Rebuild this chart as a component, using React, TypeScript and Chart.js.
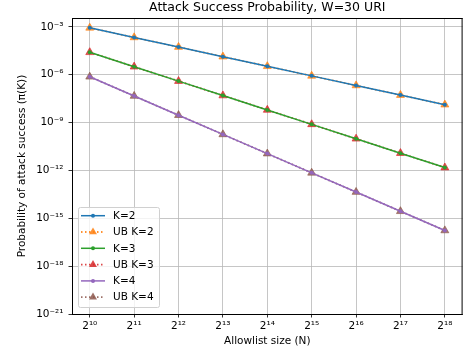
import React, { useEffect, useRef } from "react";
import { Chart, registerables } from "chart.js";

Chart.register(...registerables);

// ---- data ----
const allowlistSizes = [1024, 2048, 4096, 8192, 16384, 32768, 65536, 131072, 262144];
const xTickLabels = ["2¹⁰", "2¹¹", "2¹²", "2¹³", "2¹⁴", "2¹⁵", "2¹⁶", "2¹⁷", "2¹⁸"];
const yTickValues = [1e-21, 1e-18, 1e-15, 1e-12, 1e-9, 1e-6, 1e-3];
const yTickLabels = ["10⁻²¹", "10⁻¹⁸", "10⁻¹⁵", "10⁻¹²", "10⁻⁹", "10⁻⁶", "10⁻³"];

const k2 = [8.583e-4, 2.146e-4, 5.364e-5, 1.341e-5, 3.353e-6, 8.382e-7, 2.096e-7, 5.239e-8, 1.31e-8];
const ubK2 = [8.583e-4, 2.146e-4, 5.364e-5, 1.341e-5, 3.353e-6, 8.382e-7, 2.096e-7, 5.239e-8, 1.31e-8];
const k3 = [2.515e-5, 3.143e-6, 3.929e-7, 4.911e-8, 6.139e-9, 7.674e-10, 9.593e-11, 1.199e-11, 1.499e-12];
const ubK3 = [2.515e-5, 3.143e-6, 3.929e-7, 4.911e-8, 6.139e-9, 7.674e-10, 9.593e-11, 1.199e-11, 1.499e-12];
const k4 = [7.367e-7, 4.604e-8, 2.878e-9, 1.799e-10, 1.124e-11, 7.026e-13, 4.391e-14, 2.744e-15, 1.715e-16];
const ubK4 = [7.367e-7, 4.604e-8, 2.878e-9, 1.799e-10, 1.124e-11, 7.026e-13, 4.391e-14, 2.744e-15, 1.715e-16];

const seriesLabels = ["K=2", "UB K=2", "K=3", "UB K=3", "K=4", "UB K=4"];
const seriesValues = [k2, ubK2, k3, ubK3, k4, ubK4];
const seriesColors = ["#1f77b4", "#ff7f0e", "#2ca02c", "#d62728", "#9467bd", "#8c564b"];
const seriesIsUB = [false, true, false, true, false, true];

const titleText = "Attack Success Probability, W=30 URI";
const xTitle = "Allowlist size (N)";
const yTitle = "Probability of attack success (π(K))";

const FONT = "'DejaVu Sans', sans-serif";

function hexA(hex: string, a: number) {
  const r = parseInt(hex.slice(1, 3), 16);
  const g = parseInt(hex.slice(3, 5), 16);
  const b = parseInt(hex.slice(5, 7), 16);
  return `rgba(${r},${g},${b},${a})`;
}

function drawTriangle(ctx: CanvasRenderingContext2D, x: number, y: number, r: number) {
  ctx.beginPath();
  let rad = 0;
  ctx.moveTo(x + Math.sin(rad) * r, y - Math.cos(rad) * r);
  rad += (2 * Math.PI) / 3;
  ctx.lineTo(x + Math.sin(rad) * r, y - Math.cos(rad) * r);
  rad += (2 * Math.PI) / 3;
  ctx.lineTo(x + Math.sin(rad) * r, y - Math.cos(rad) * r);
  ctx.closePath();
}

const decorPlugin = {
  id: "decor",
  afterDraw(chart: any) {
    const { ctx, chartArea } = chart;
    const { left, right, top, bottom } = chartArea;
    ctx.save();
    // frame top/right
    ctx.strokeStyle = "#000";
    ctx.lineWidth = 1;
    ctx.beginPath();
    ctx.moveTo(left, top + 0.5);
    ctx.lineTo(right, top + 0.5);
    ctx.moveTo(right - 0.5, top);
    ctx.lineTo(right - 0.5, bottom);
    ctx.stroke();

    // title
    ctx.fillStyle = "#000";
    ctx.font = `12.5px ${FONT}`;
    ctx.textAlign = "center";
    ctx.textBaseline = "middle";
    ctx.fillText(titleText, (left + right) / 2, 8);

    // legend
    const bx = left + 6;
    const bw = 82;
    const bh = 101;
    const by = bottom - 6 - bh;
    ctx.fillStyle = "rgba(255,255,255,0.8)";
    ctx.strokeStyle = "#d0d0d0";
    ctx.lineWidth = 1;
    ctx.beginPath();
    const rr = 2.5;
    ctx.moveTo(bx + rr, by + 0.5);
    ctx.lineTo(bx + bw - rr, by + 0.5);
    ctx.quadraticCurveTo(bx + bw - 0.5, by + 0.5, bx + bw - 0.5, by + rr);
    ctx.lineTo(bx + bw - 0.5, by + bh - rr);
    ctx.quadraticCurveTo(bx + bw - 0.5, by + bh - 0.5, bx + bw - rr, by + bh - 0.5);
    ctx.lineTo(bx + rr, by + bh - 0.5);
    ctx.quadraticCurveTo(bx + 0.5, by + bh - 0.5, bx + 0.5, by + bh - rr);
    ctx.lineTo(bx + 0.5, by + rr);
    ctx.quadraticCurveTo(bx + 0.5, by + 0.5, bx + rr, by + 0.5);
    ctx.closePath();
    ctx.fill();
    ctx.stroke();

    const ds = chart.data.datasets;
    for (let i = 0; i < ds.length; i++) {
      const d = ds[i];
      const y = by + 8.7 + i * 16.3;
      const x0 = bx + 3;
      const x1 = bx + 27;
      const color = seriesColors[i];
      const ub = seriesIsUB[i];
      ctx.strokeStyle = ub ? hexA(color, 0.85) : color;
      ctx.lineWidth = ub ? 1.8 : 1.5;
      ctx.setLineDash(ub ? [1.5, 2.5] : []);
      ctx.beginPath();
      ctx.moveTo(x0, y);
      ctx.lineTo(x1, y);
      ctx.stroke();
      ctx.setLineDash([]);
      const mx = (x0 + x1) / 2;
      if (ub) {
        ctx.fillStyle = hexA(color, 0.85);
        drawTriangle(ctx, mx, y, 4.6);
        ctx.fill();
      } else {
        ctx.fillStyle = color;
        ctx.beginPath();
        ctx.arc(mx, y, 2, 0, Math.PI * 2);
        ctx.fill();
      }
      ctx.fillStyle = "#000";
      ctx.font = `10.5px ${FONT}`;
      ctx.textAlign = "left";
      ctx.textBaseline = "middle";
      ctx.fillText(d.label, bx + 35, y + 0.5);
    }
    ctx.restore();
  },
};

export default function App() {
  const ref = useRef<HTMLCanvasElement | null>(null);

  useEffect(() => {
    if (!ref.current) return;
    const datasets = seriesLabels.map((label, i) => {
      const color = seriesColors[i];
      const ub = seriesIsUB[i];
      return {
        label,
        data: allowlistSizes.map((n, j) => ({ x: n, y: seriesValues[i][j] })),
        borderColor: ub ? hexA(color, 0.85) : color,
        backgroundColor: ub ? hexA(color, 0.8) : color,
        borderWidth: ub ? 1.8 : 1.5,
        borderDash: ub ? [1.5, 2.5] : [],
        pointStyle: ub ? "triangle" : "circle",
        pointRadius: ub ? 4.6 : 2,
        pointBackgroundColor: ub ? hexA(color, 0.8) : color,
        pointBorderColor: ub ? hexA(color, 0.8) : color,
        pointBorderWidth: ub ? 0.8 : 0,
        fill: false,
        tension: 0,
        // K series drawn on top of their UB series (lower order = on top)
        order: ub ? 10 - i : 10 - i - 2,
      };
    });

    const chart = new Chart(ref.current, {
      type: "line",
      data: { datasets },
      plugins: [decorPlugin],
      options: {
        animation: false,
        responsive: false,
        devicePixelRatio: 1,
        layout: { padding: { top: 18, left: 0, right: 0, bottom: 0 } },
        plugins: {
          legend: { display: false },
          title: { display: false },
          tooltip: { enabled: false },
        },
        scales: {
          x: {
            type: "logarithmic",
            min: allowlistSizes[0] / Math.pow(2, 0.4),
            max: allowlistSizes[allowlistSizes.length - 1] * Math.pow(2, 0.4),
            afterBuildTicks: (axis: any) => {
              axis.ticks = allowlistSizes.map((v) => ({ value: v }));
            },
            afterFit: (scale: any) => {
              scale.height = 41;
            },
            ticks: {
              autoSkip: false,
              maxRotation: 0,
              padding: 2,
              color: "#000",
              font: { family: FONT, size: 10.5 },
              callback: (_v: any, idx: number) => xTickLabels[idx],
            },
            grid: {
              color: "#b8b8b8",
              lineWidth: 0.8,
              drawTicks: true,
              tickLength: 3.5,
              tickColor: "#000",
              tickWidth: 0.8,
            },
            border: { display: true, color: "#000", width: 1 },
            title: {
              display: true,
              text: xTitle,
              color: "#000",
              font: { family: FONT, size: 10.5 },
              padding: { top: 0, bottom: 7 },
            },
          },
          y: {
            type: "logarithmic",
            min: 1e-21,
            max: Math.pow(10, -2.45),
            afterBuildTicks: (axis: any) => {
              axis.ticks = yTickValues.map((v) => ({ value: v }));
            },
            afterFit: (scale: any) => {
              scale.width = 72;
            },
            ticks: {
              autoSkip: false,
              padding: 5,
              color: "#000",
              font: { family: FONT, size: 10.5 },
              callback: (_v: any, idx: number) => yTickLabels[idx],
            },
            grid: {
              color: "#b8b8b8",
              lineWidth: 0.8,
              drawTicks: true,
              tickLength: 3.5,
              tickColor: "#000",
              tickWidth: 0.8,
            },
            border: { display: true, color: "#000", width: 1 },
            title: {
              display: true,
              text: yTitle,
              color: "#000",
              font: { family: FONT, size: 10.5 },
              padding: { top: 15.5, bottom: 0 },
            },
          },
        },
      } as any,
    });
    return () => chart.destroy();
  }, []);

  return (
    <div
      style={{
        position: "fixed",
        left: 0,
        top: 0,
        width: 466,
        height: 355,
        overflow: "hidden",
        background: "#fff",
      }}
    >
      <canvas ref={ref} width={468} height={355} style={{ width: 468, height: 355, display: "block" }} />
    </div>
  );
}
